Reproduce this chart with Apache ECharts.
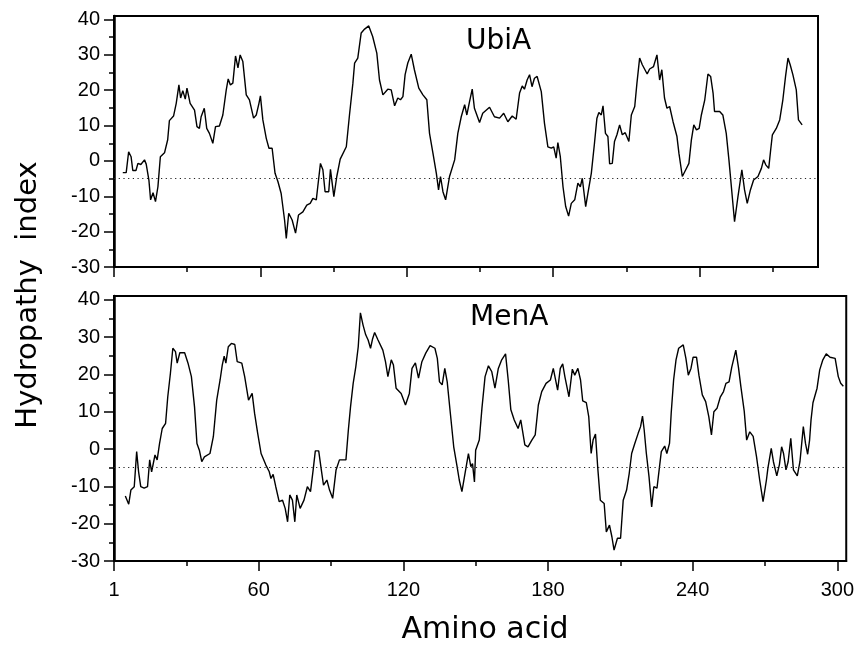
<!DOCTYPE html>
<html><head><meta charset="utf-8">
<script src="https://cdn.jsdelivr.net/npm/echarts@6/dist/echarts.min.js"></script>
<style>html,body{margin:0;padding:0;background:#fff}#c{width:857px;height:650px}</style>
</head><body><div id="c"></div>
<script>
// UbiA hydropathy profile (residue, index)
const ubiaX = [3.6,5,6,7,7.7,9,9.8,11,12.5,13.2,14.3,15,16,17,18,19,20.7,22,22.7,24.4,25.5,26.6,27.3,28.2,29.2,29.9,31.2,33,34,35,35.7,37,38,39.1,40.5,41.6,43.2,44.6,46,46.8,47.7,48.7,49.8,50.8,51.7,52.8,54.2,55.5,57.2,58.3,59.4,60,61,62.4,63.5,64.8,66,67.2,68.5,69.9,70.6,71.6,73,74.4,75.6,77.4,79,80.4,81.5,82.9,83.5,84.6,85.6,86.5,88,88.7,90.1,91.3,92.7,95.2,96.5,97.9,98.6,99.9,101.3,102.7,104.4,106,107.7,108.8,110.2,112.2,113.6,115,116.3,117.4,118.4,119.3,120.4,121.8,123.1,124.9,126.6,128.2,129.3,130.7,132.1,133,133.8,134.8,135.9,137.5,139.6,140.9,142.3,143.7,144.6,145.7,146.8,147.7,149.8,151.1,153.9,155.9,158,159.7,161.4,163.2,164.8,166.2,167.3,168.2,169.3,170.3,171.3,172.3,173.4,175.1,176.4,177.8,179.2,180.2,181.2,181.9,182.9,184,185.1,186.3,187.4,188.8,190.1,191.1,191.9,193.3,194.2,195.6,196.9,197.9,198.7,199.7,200.4,201.4,202.4,203.1,204.2,205.1,206.1,207.2,208.3,209.5,211,212,213.4,214.3,215.4,216.5,218.5,219.5,221.1,222.5,223.6,224.5,225.6,226.6,227.7,229.1,230.7,231.5,232.9,234.3,235.6,236.6,237.6,238.7,239.8,240.7,242.1,243.4,244.5,245.5,246.1,248.2,249.5,250.9,252,253,254.3,255.7,257.3,258.4,259.5,260.8,262.1,263.9,265.3,266.2,267.1,268.3,269.1,269.8,271.4,272.8,274.1,275.2,276.2,277.1,278.2,279.6,280.5,282];
const ubiaY = [-3.3,-3.3,2.6,1.2,-2.7,-2.7,-0.7,-1,0.3,-0.9,-5.4,-11,-9,-11.5,-7.3,1.2,2.3,6,11.4,12.7,16.3,21.5,17.8,19.9,17.5,20.6,16.3,14.4,9.7,9.2,12.5,14.9,9.2,7.8,5,9.7,9.9,13,20.1,23.2,21.5,22,29.7,26.3,30,28.1,18.7,17.3,12.1,13,16.3,18.4,11.6,6.4,3.6,3.6,-3.5,-5.9,-9.2,-16.7,-21.9,-14.8,-16.7,-20.4,-15.3,-14.4,-12.5,-12,-10.6,-11,-7.3,-0.7,-2.5,-8.7,-8.7,-2.4,-10.1,-4.4,0.5,4,13,22,27.7,29.1,36.2,37.3,38.2,35.2,30.5,22.9,18.7,20.3,20.1,15.6,17.8,17.3,18.2,24.4,27.7,30.2,25.8,20.6,18.7,17.3,7.8,2.2,-3.5,-8.2,-4.4,-8.7,-11,-4.4,0.3,7.8,12.5,15.9,13,16.8,20.3,14.9,10.9,13.5,15.2,12.5,12.1,13.5,11.1,12.7,11.8,19.2,21.2,20.3,22.9,24.4,21,23.4,23.9,19.6,10.7,4,3.6,4,0.8,5.2,1.2,-7.3,-12.9,-15.6,-12,-11,-6.3,-7.3,-4.9,-12.9,-9.2,-3.5,5,12.1,13.7,13,15.6,7.8,6.9,-0.8,-0.7,5.5,7.4,10.2,7.4,8,5.5,13,15.4,22,29.1,27.2,24.6,26,26.7,30,22.9,25.8,17.8,14.9,15.4,11.1,6.9,2.2,-4.4,-2.5,-0.7,5.9,10.2,8.8,9.2,13,17.3,24.6,23.9,19.2,14,14,13,7.8,0.3,-7.3,-17.2,-10.1,-2.5,-8.2,-12,-8.2,-5.4,-4.4,-2.1,0.3,-1.1,-2.1,3.1,7.4,9.2,11.6,17.3,23.9,29.1,27.2,24.4,20.1,11.6,10.2];
// MenA hydropathy profile (residue, index)
const menaX = [4.7,6.1,7,8.4,9.4,10.2,11.1,12.5,13.9,14.8,15.6,17,17.9,18.9,20,21.4,22.3,23.4,24.4,25.5,26.2,27.3,29.3,30.7,32.1,33.4,34.4,35.4,36.4,37.5,39.8,41.2,42.6,44,44.9,45.7,46.4,47.4,48.7,50.1,51.1,53,54.2,55.8,56.6,57.3,58.3,59.6,61,63,64.4,65.1,66,67.1,68.5,69.9,71,72,72.9,74,75,75.8,77.2,78.8,80.2,81.5,82.6,83.5,84.9,85.9,86.9,88.3,89.4,90.7,92.1,93.5,96.2,97.2,98.1,99.2,100.3,101.3,102.2,103.3,104.4,105.4,106.4,107.2,108.1,109.5,111.5,112.6,113.6,115,115.9,117,119.1,120.9,122.5,123.6,125,126.3,127.7,129.3,131.1,133.1,134.1,135,136.1,137.2,138.2,139.5,140.9,142.3,143.2,144.3,145.7,147,148,148.7,149.5,150,151.5,152.6,153.9,155.3,156.7,158,159.4,160.8,162.4,163.5,164.6,166,167.6,168.7,170.4,171.7,173.3,174.7,176,177.4,179.2,181,182.2,184,185.1,186.1,187,188.7,190.1,191.1,192.4,193.5,194.4,195.9,196.9,197.9,198.7,199.7,200.6,201.7,203.3,204.2,205.5,206.5,207.4,208.8,210.1,211.2,212.6,213.7,214.7,216,217.4,218.4,219.2,219.9,220.8,221.9,223,223.9,225.2,226.1,227,228.4,229.3,230.4,231.1,232.1,233.1,234.2,236.1,237.2,238.2,239.3,240.2,241.6,242.6,244,245.4,246.7,247.8,248.8,250.1,251.5,252.8,253.8,255.1,256.2,257.9,259,260,261.4,262.4,263.7,265.1,266.5,267.8,269.2,270.6,271.2,272.6,273.5,274.9,276,276.9,277.7,278.7,279.6,280.7,281.8,283.4,284.5,285.9,286.8,287.7,288.5,289.1,289.9,291.6,292.7,294,295.4,297,299.1,300.4,301.4,302.5];
const menaY = [-12.6,-14.8,-11,-10.1,-0.7,-6.1,-10.1,-10.5,-10.1,-2.9,-6.1,-1.6,-2.9,1.5,5.5,6.9,14,20.3,27,26.1,23,25.8,25.8,23,19.4,11.3,1.5,-0.3,-3.4,-2.1,-1.2,3.3,13.1,18.5,22.5,24.9,23,27.4,28.3,28,23.4,23,19.4,13.1,12.7,14.9,9.6,4.2,-1.2,-4.3,-6.1,-7.9,-6.8,-10.1,-14.1,-13.7,-15.9,-19.5,-12.3,-13.7,-19.5,-12.3,-15.9,-13.7,-10.1,-11.4,-5.6,-0.5,-0.5,-5.2,-9.7,-8.3,-11,-13.2,-5.6,-2.9,-2.9,5.1,11.3,17.6,22.1,27.4,36.5,33.2,30.6,29.2,27,29.4,31.2,29.2,26.5,23.4,19.4,23.9,22.5,16.3,14.9,11.8,14.9,21.6,23.1,19,23.4,25.7,27.7,27,24.3,18,17.2,21.6,18,9.6,0.6,-4.7,-8.3,-11.4,-6.1,-1.2,-4.7,-3.9,-8.8,-0.3,2.4,10.9,19.4,22.3,20.7,16.3,21.6,23.9,25.5,18.5,10.5,7.8,5.5,7.8,1.1,0.6,2.4,3.8,11.8,15.4,17.6,18.5,21.6,15.8,21.6,22.8,19.4,14,21.4,19.8,21.6,18.5,12.9,12.4,8.7,-1.2,2.4,4,-4.7,-13.7,-14.6,-22.2,-20.4,-23.5,-27.1,-23.9,-23.9,-13.7,-11,-6.5,-1.2,1.5,4.2,6,8.8,5.1,-1.2,-7.4,-15.5,-10.1,-10.5,-5.6,-0.7,0.8,-1.2,1.5,9.6,18.5,23.9,27,27.9,24.3,19.8,21.6,24.6,24.6,19.8,14.5,12.7,8.7,3.8,10,10.9,14,15.4,17.6,18,21.9,26.5,21.9,16.7,10.1,2.4,4.6,3.4,-2.1,-8.3,-14.1,-8.3,-5.2,0.2,-3.4,-7.2,-4.1,0.6,-1.2,-5.6,-3.4,2.9,-5.6,-7.2,-3.4,6,1.5,-1.4,2.4,7.8,12.4,16.3,21.2,23.9,25.5,24.6,24.3,19.4,17.6,16.8];
const yMajorTicks = [-30,-20,-10,0,10,20,30,40];
const yMinorTicks = [-25,-15,-5,5,15,25,35];
const xMajorTicks = [0,60,120,180,240,300];
const xMinorTicks = [30,90,150,210,270];
const xTickLabels = ['1','60','120','180','240','300'];
const panelNames = ['UbiA','MenA'];
const cutoffLevel = -5;

const chart = echarts.init(document.getElementById('c'), null, {renderer:'canvas'});
const tickFont = 'Liberation Sans';
function xAxesFor(grid, max, labels){
  const maj = xMajorTicks.filter(v => v <= max);
  const mnr = xMinorTicks.filter(v => v <= max);
  return [
    {type:'value', gridIndex:grid, min:0, max:max, position:'bottom',
     axisLine:{show:true, onZero:false, lineStyle:{color:'#000', width:2}},
     axisTick:{show:true, length:10, customValues:maj, lineStyle:{color:'#000', width:1.5}},
     axisLabel:{show:labels, customValues:maj, margin:19, color:'#000', fontSize:20, fontFamily:tickFont,
       formatter: v => xTickLabels[xMajorTicks.indexOf(v)] || ''},
     splitLine:{show:false}},
    {type:'value', gridIndex:grid, min:0, max:max, position:'bottom',
     axisLine:{show:false, onZero:false},
     axisTick:{show:true, length:5, customValues:mnr, lineStyle:{color:'#000', width:1.5}},
     axisLabel:{show:false}, splitLine:{show:false}}
  ];
}
function yAxesFor(grid){
  return [
    {type:'value', gridIndex:grid, min:-30, max:41, position:'left',
     axisLine:{show:true, onZero:false, lineStyle:{color:'#000', width:2.5}},
     axisTick:{show:true, length:10, customValues:yMajorTicks, lineStyle:{color:'#000', width:1.5}},
     axisLabel:{show:true, customValues:yMajorTicks, margin:14, color:'#000', fontSize:20, fontFamily:tickFont},
     splitLine:{show:false}},
    {type:'value', gridIndex:grid, min:-30, max:41, position:'left',
     axisLine:{show:false, onZero:false},
     axisTick:{show:true, length:5, customValues:yMinorTicks, lineStyle:{color:'#000', width:1.5}},
     axisLabel:{show:false}, splitLine:{show:false}}
  ];
}
function profile(xs, ys, gi){
  return {type:'line', xAxisIndex:gi*2, yAxisIndex:gi*2,
    data: xs.map((x,i) => [x, ys[i]]),
    showSymbol:false, symbol:'none', smooth:false,
    lineStyle:{color:'#000', width:1.4}, z:3,
    markLine:{silent:true, symbol:'none', label:{show:false},
      lineStyle:{color:'#222', type:[1.2,3.5], width:1.2},
      data:[{yAxis:cutoffLevel}]}};
}
chart.setOption({
  animation:false,
  backgroundColor:'#fff',
  grid:[
    {left:114, top:16, width:704, height:251, show:true, borderColor:'#000', borderWidth:2, backgroundColor:'transparent'},
    {left:114, top:296, width:741, height:265, show:true, borderColor:'#000', borderWidth:2, backgroundColor:'transparent'}
  ],
  xAxis: [...xAxesFor(0, 288.5, false), ...xAxesFor(1, 303.7, true)],
  yAxis: [...yAxesFor(0), ...yAxesFor(1)],
  series:[profile(ubiaX, ubiaY, 0), profile(menaX, menaY, 1)],
  graphic:[
    {type:'text', left:466, top:28, style:{text:panelNames[0], font:'28px "DejaVu Sans"', fill:'#000'}},
    {type:'text', left:470, top:304, style:{text:panelNames[1], font:'28px "DejaVu Sans"', fill:'#000'}},
    {type:'text', x:28, y:295, rotation:Math.PI/2, style:{text:'Hydropathy  index', font:'29px "DejaVu Sans"', fill:'#000', align:'center', verticalAlign:'middle'}},
    {type:'text', x:485, y:630, style:{text:'Amino acid', font:'30px "DejaVu Sans"', fill:'#000', align:'center', verticalAlign:'middle'}}
  ]
});
</script></body></html>
